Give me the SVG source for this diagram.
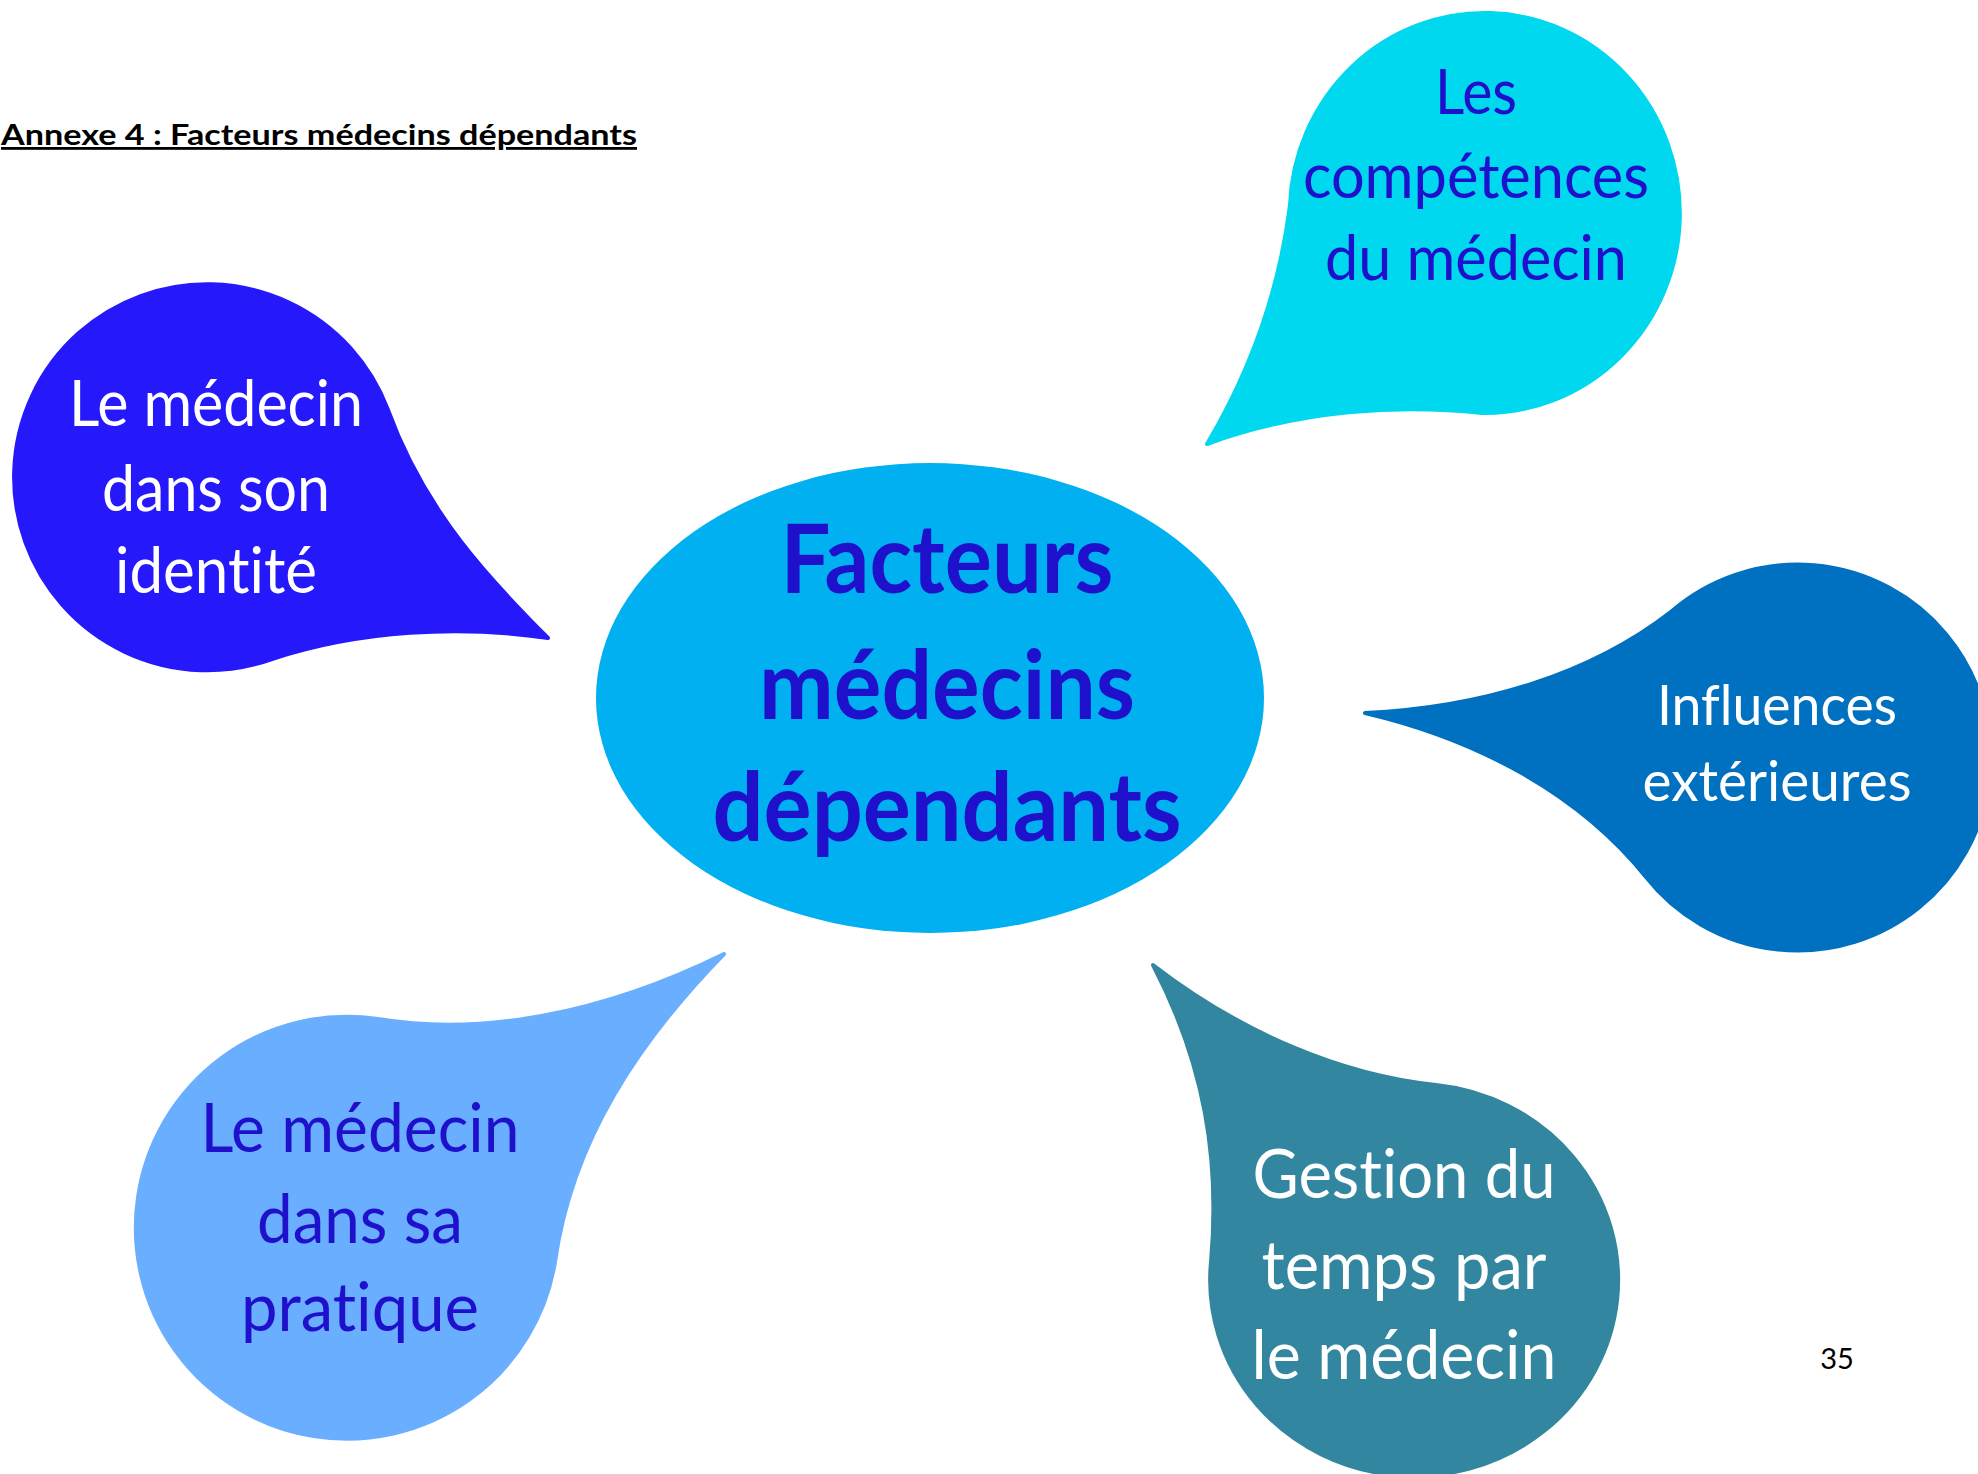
<svg xmlns="http://www.w3.org/2000/svg" width="1978" height="1474" viewBox="0 0 1978 1474">
<style>
text{font-variant-ligatures:none}
.t{font-family:Lato,"Open Sans","Liberation Sans",sans-serif;text-anchor:middle}
.w{fill:#FFFFFF}
.d{fill:#1F10CC}
.b{stroke-linejoin:round;stroke-width:4}
</style>
<rect width="1978" height="1474" fill="#FFFFFF"/>
<g id="title">
<text x="1" y="145" font-family="Lato,'Liberation Sans',sans-serif" font-weight="bold" font-size="28" fill="#000000" textLength="636" lengthAdjust="spacingAndGlyphs" text-decoration="underline">Annexe 4 : Facteurs médecins dépendants</text>
</g>
<g id="connectors"></g>
<g id="center">
<ellipse cx="930" cy="698" rx="334" ry="235" fill="#00B0F0"/>
<text class="t d" font-weight="bold" font-size="96" x="947" y="593" textLength="333" lengthAdjust="spacingAndGlyphs">Facteurs</text>
<text class="t d" font-weight="bold" font-size="96" x="947" y="719" textLength="376" lengthAdjust="spacingAndGlyphs">médecins</text>
<text class="t d" font-weight="bold" font-size="96" x="947" y="841" textLength="469" lengthAdjust="spacingAndGlyphs">dépendants</text>
</g>
<g id="identite">
<path class="b" fill="#2518FA" stroke="#2518FA" d="M548,638 C490,580 425,512 388,410 A193 193 0 1 0 272,659 C360,630 460,625 548,638 Z"/>
<text class="t w" font-size="64" x="216" y="426" textLength="294" lengthAdjust="spacingAndGlyphs">Le médecin</text>
<text class="t w" font-size="64" x="216" y="511" textLength="228" lengthAdjust="spacingAndGlyphs">dans son</text>
<text class="t w" font-size="64" x="216" y="593" textLength="202" lengthAdjust="spacingAndGlyphs">identité</text>
</g>
<g id="competences">
<path class="b" fill="#00D8F0" stroke="#00D8F0" d="M1207,444 C1245,380 1278,300 1290,205 A195 200 0 1 1 1482,413 C1400,404 1300,410 1207,444 Z"/>
<text class="t d" font-size="62" x="1476" y="114" textLength="82" lengthAdjust="spacingAndGlyphs">Les</text>
<text class="t d" font-size="62" x="1476" y="198" textLength="346" lengthAdjust="spacingAndGlyphs">compétences</text>
<text class="t d" font-size="62" x="1476" y="280" textLength="302" lengthAdjust="spacingAndGlyphs">du médecin</text>
</g>
<g id="influences">
<path class="b" fill="#0070C0" stroke="#0070C0" d="M1365,713 C1480,708 1590,675 1672,611 A193 193 0 1 1 1646,877 C1580,795 1480,740 1365,713 Z"/>
<text class="t w" font-size="56" x="1777" y="725" textLength="240" lengthAdjust="spacingAndGlyphs">Influences</text>
<text class="t w" font-size="56" x="1777" y="801" textLength="269" lengthAdjust="spacingAndGlyphs">extérieures</text>
</g>
<g id="pratique">
<path class="b" fill="#6AAEFF" stroke="#6AAEFF" d="M724,954 C640,1040 572,1140 555,1262 A211 211 0 1 1 378,1019 C480,1036 600,1015 724,954 Z"/>
<text class="t d" font-size="68" x="360" y="1152" textLength="319" lengthAdjust="spacingAndGlyphs">Le médecin</text>
<text class="t d" font-size="68" x="360" y="1243" textLength="206" lengthAdjust="spacingAndGlyphs">dans sa</text>
<text class="t d" font-size="68" x="360" y="1331" textLength="238" lengthAdjust="spacingAndGlyphs">pratique</text>
</g>
<g id="gestion">
<path class="b" fill="#33869F" stroke="#33869F" d="M1153,965 C1240,1032 1340,1075 1436,1085 A204 196 0 1 1 1211,1262 C1220,1160 1205,1065 1153,965 Z"/>
<text class="t w" font-size="68" x="1404" y="1198" textLength="303" lengthAdjust="spacingAndGlyphs">Gestion du</text>
<text class="t w" font-size="68" x="1404" y="1289" textLength="285" lengthAdjust="spacingAndGlyphs">temps par</text>
<text class="t w" font-size="68" x="1404" y="1379" textLength="305" lengthAdjust="spacingAndGlyphs">le médecin</text>
</g>
<g id="page">
<text x="1837" y="1369" font-family="Lato,'Liberation Sans',sans-serif" font-size="29" fill="#000000" text-anchor="middle">35</text>
</g>
</svg>
